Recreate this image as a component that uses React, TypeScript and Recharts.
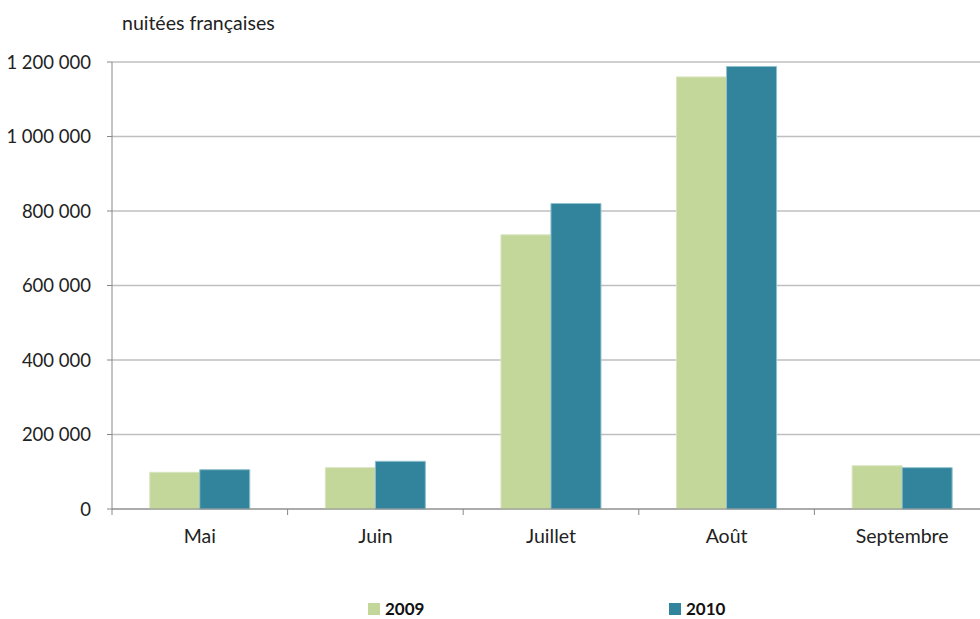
import { BarChart, Bar, XAxis, YAxis, CartesianGrid } from "recharts";

const months = ["Mai", "Juin", "Juillet", "Août", "Septembre"];
const nights2009 = [98500, 111000, 736000, 1160000, 116000];
const nights2010 = [105500, 128000, 820000, 1188000, 111000];
const yTicks = [0, 200000, 400000, 600000, 800000, 1000000, 1200000];

const data = months.map((m, i) => ({ month: m, y2009: nights2009[i], y2010: nights2010[i] }));

const FONT = "Lato, 'Open Sans', sans-serif";
const CHART_W = 1000;
const MARGIN_R = 10;
const Y_W = 112;
const BAND = (CHART_W - MARGIN_R - Y_W) / months.length;

const fmt = (v: number) => v.toString().replace(/\B(?=(\d{3})+(?!\d))/g, " ");

function MonthTick(props: any) {
  const { x, y, payload, index } = props;
  return (
    <g>
      <line x1={x - BAND / 2} x2={x - BAND / 2} y1={y} y2={y + 6} stroke="#888" />
      {index === months.length - 1 && (
        <line x1={x + BAND / 2} x2={x + BAND / 2} y1={y} y2={y + 6} stroke="#888" />
      )}
      <text x={x} y={y + 34} textAnchor="middle" fill="#222" fontSize={19.5} fontFamily={FONT}>
        {payload.value}
      </text>
    </g>
  );
}

export default function App() {
  return (
    <div style={{ position: "fixed", left: 0, top: 0, width: 980, height: 619, overflow: "hidden", background: "#fff" }}>
      <div style={{ position: "absolute", left: 122, top: 11, fontFamily: FONT, fontSize: 19.5, color: "#222" }}>
        nuitées françaises
      </div>
      <BarChart
        width={CHART_W}
        height={619}
        data={data}
        margin={{ top: 62, right: MARGIN_R, left: 0, bottom: 0 }}
        barCategoryGap="21.5%"
        barGap={0}
      >
        <CartesianGrid vertical={false} stroke="#bfbfbf" strokeWidth={1.5} />
        <XAxis
          dataKey="month"
          height={110}
          axisLine={{ stroke: "#888" }}
          tickLine={false}
          tickSize={0}
          tickMargin={0}
          tick={<MonthTick />}
          interval={0}
        />
        <YAxis
          width={Y_W}
          domain={[0, 1200000]}
          ticks={yTicks}
          interval={0}
          axisLine={{ stroke: "#888" }}
          tickLine={{ stroke: "#888" }}
          tickSize={5}
          tickMargin={16}
          tickFormatter={fmt}
          tick={{ fill: "#222", fontSize: 18.5, fontFamily: FONT }}
        />
        <Bar dataKey="y2009" fill="#c4d79b" stroke="#d8e5bf" strokeWidth={1} isAnimationActive={false} />
        <Bar dataKey="y2010" fill="#31849b" stroke="#8fc0cd" strokeWidth={1} isAnimationActive={false} />
      </BarChart>
      <div style={{ position: "absolute", left: 368, top: 599, display: "flex", alignItems: "center", fontFamily: FONT, fontSize: 17, fontWeight: 700, color: "#111", lineHeight: "20px" }}>
        <span style={{ width: 12, height: 12, background: "#c4d79b", marginRight: 5, display: "inline-block" }} />
        2009
      </div>
      <div style={{ position: "absolute", left: 669, top: 599, display: "flex", alignItems: "center", fontFamily: FONT, fontSize: 17, fontWeight: 700, color: "#111", lineHeight: "20px" }}>
        <span style={{ width: 12, height: 12, background: "#31849b", marginRight: 5, display: "inline-block" }} />
        2010
      </div>
    </div>
  );
}
